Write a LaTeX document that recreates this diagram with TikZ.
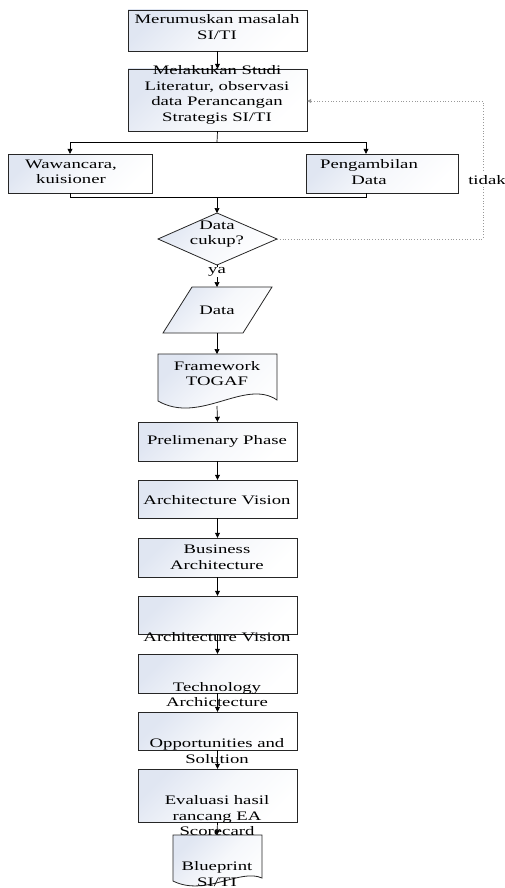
\documentclass[tikz,border=0pt]{standalone}
\usepackage{fontspec}
\setmainfont[FakeStretch=1.44]{Liberation Serif}
\usetikzlibrary{arrows.meta}
\definecolor{boxtint}{RGB}{224,230,242}
\begin{document}
\begin{tikzpicture}[x=1pt,y=-1pt,
  box/.style={draw=black!85,line width=0.8pt,top color=boxtint,bottom color=white,middle color=white!70!boxtint,shading angle=45},
  txt/.style={font=\fontsize{13}{15.5}\selectfont,align=center,inner sep=0pt},
  flow/.style={line width=0.7pt,-{Triangle[length=5pt,width=5pt]}},
  plain/.style={line width=0.7pt},
  back/.style={draw=gray!80,line width=0.8pt,dotted,-{Triangle[length=4pt,width=4pt]}}]
\useasboundingbox (0,0) rectangle (505,888);

% top boxes
\path[box] (128,10) rectangle (307,51);
\node (merumuskan) at (217.5,30.5) [minimum width=179pt,minimum height=41pt,inner sep=0pt] {};
\path[box] (128,69) rectangle (307,131);
\node (studi) at (217.5,100) [minimum width=179pt,minimum height=62pt,inner sep=0pt] {};
\path[box] (8,154) rectangle (152,193);
\node (wawancara) at (80,173.5) [minimum width=144pt,minimum height=39pt,inner sep=0pt] {};
\path[box] (306,154) rectangle (458,193);
\node (ambil) at (382,173.5) [minimum width=152pt,minimum height=39pt,inner sep=0pt] {};

% decision
\path[box] (217,213) -- (277,239) -- (217,265) -- (158,239) -- cycle;
\coordinate (dtop) at (217,213);
\coordinate (dbot) at (217,265);
\coordinate (dright) at (277,239);

% data parallelogram
\path[box] (192,287) -- (272,287) -- (243,333) -- (163,333) -- cycle;
\coordinate (ptop) at (217,287);
\coordinate (pbot) at (217,333);

% document TOGAF
\path[box] (158,354) -- (277,354) -- (277,400)
  .. controls (245,378) and (200,425) .. (158,401) -- cycle;
\coordinate (ftop) at (217,354);
\coordinate (fbot) at (217,406);

% phase boxes
\path[box] (138,422) rectangle (297,461);
\path[box] (138,480) rectangle (297,518);
\path[box] (138,538) rectangle (297,577);
\path[box] (138,596) rectangle (297,634);
\path[box] (138,654) rectangle (297,693);
\path[box] (138,712) rectangle (297,750);
\path[box] (138,769) rectangle (297,822);
\node (pre) at (217.5,441.5) [minimum width=159pt,minimum height=39pt,inner sep=0pt] {};
\node (av1) at (217.5,499) [minimum width=159pt,minimum height=38pt,inner sep=0pt] {};
\node (bus) at (217.5,557.5) [minimum width=159pt,minimum height=39pt,inner sep=0pt] {};
\node (av2) at (217.5,615) [minimum width=159pt,minimum height=38pt,inner sep=0pt] {};
\node (tech) at (217.5,673.5) [minimum width=159pt,minimum height=39pt,inner sep=0pt] {};
\node (opp) at (217.5,731) [minimum width=159pt,minimum height=38pt,inner sep=0pt] {};
\node (eval) at (217.5,795.5) [minimum width=159pt,minimum height=53pt,inner sep=0pt] {};

% document Blueprint
\path[box] (173,835) -- (262,835) -- (262,878)
  .. controls (240,868) and (205,897) .. (173,881) -- cycle;
\coordinate (btop) at (217,835);

% texts
\node[txt] (t1) at (217,27) {Merumuskan masalah\\SI/TI};
\node[txt] (t2) at (217,95) {Melakukan Studi\\Literatur, observasi\\data Perancangan\\Strategis SI/TI};
\node[txt] (t3) at (71,172) {Wawancara,\\kuisioner};
\node[txt] (t4) at (369,172) {Pengambilan\\Data};
\node[txt] (t5) at (217,234) {Data\\cukup?};
\node[txt] (t6) at (217,310) {Data};
\node[txt] (t7) at (217,373.5) {Framework\\TOGAF};
\node[txt] (t8) at (217,441) {Prelimenary Phase};
\node[txt] (t9) at (217,500) {Architecture Vision};
\node[txt] (t10) at (217,557.5) {Business\\Architecture};
\node[txt] (t11) at (217,637) {Architecture Vision};
\node[txt] (t12) at (217,694.5) {Technology\\Archictecture};
\node[txt] (t13) at (217,751) {Opportunities and\\Solution};
\node[txt] (t14) at (217,816) {Evaluasi hasil\\rancang EA\\Scorecard};
\node[txt] (t15) at (217,874) {Blueprint\\SI/TI};

% connectors
\coordinate (split) at (217,142);
\coordinate (join) at (217,197);
\draw[flow] (merumuskan.south) -- (studi.north);
\draw[plain] (studi.south) -- (split);
\draw[flow] (split) -| (wawancara.north -| 70,0);
\draw[flow] (split) -| (ambil.north -| 366,0);
\draw[plain] (wawancara.south -| 70,0) |- (join);
\draw[plain] (ambil.south -| 366,0) |- (join);
\draw[flow] (join) -- (dtop);
\draw[flow] (dbot) -- (ptop);
\node[txt,fill=white,inner sep=1pt] (ya) at (217,272) {ya};
\draw[flow] (pbot) -- (ftop);
\draw[flow] (fbot) -- (pre.north);
\draw[flow] (pre.south) -- (av1.north);
\draw[flow] (av1.south) -- (bus.north);
\draw[flow] (bus.south) -- (av2.north);
\draw[flow] (av2.south) -- (tech.north);
\draw[flow] (tech.south) -- (opp.north);
\draw[flow] (opp.south) -- (eval.north);
\draw[flow] (eval.south) -- (btop);

% loop back when data is insufficient
\coordinate (c1) at (483,239);
\coordinate (c2) at (483,101);
\draw[back] (dright) -- (c1) -- (c2) -- (studi.east |- c2);
\node[txt,fill=white,inner sep=2pt] (tidak) at (487,180) {tidak};
\end{tikzpicture}
\end{document}
